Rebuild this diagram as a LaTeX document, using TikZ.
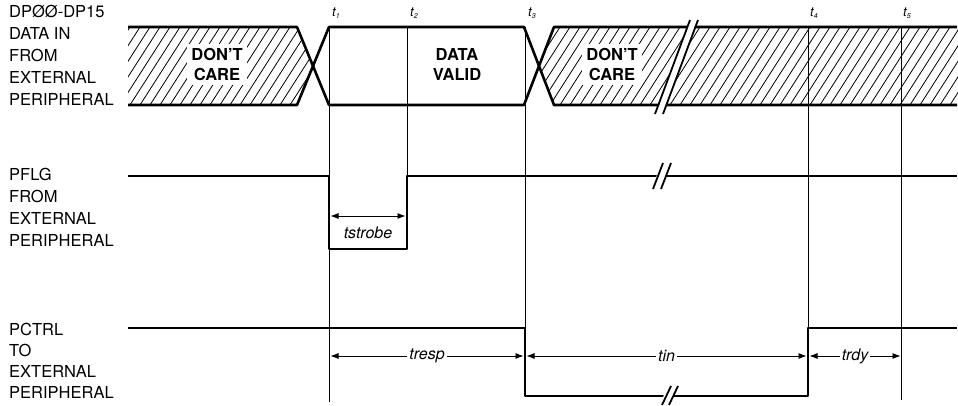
\documentclass[tikz,border=0pt]{standalone}
\usepackage{fontspec}
\setmainfont{TeX Gyre Heros}
\usetikzlibrary{arrows.meta}
\begin{document}
\begin{tikzpicture}[x=1pt,y=-1pt,
  sig/.style={line width=2.6pt, line join=round},
  tline/.style={line width=0.9pt},
  hatch/.style={line width=0.8pt},
  brk/.style={line width=1.8pt},
  dim/.style={line width=0.8pt, {Latex[length=8pt,width=6pt]}-{Latex[length=8pt,width=6pt]}},
  lbl/.style={font=\fontsize{16.5}{20}\selectfont, anchor=base west, inner sep=0pt},
  care/.style={font=\bfseries\fontsize{16.5}{21}\selectfont, align=center, fill=white, inner sep=4pt},
  tlab/.style={font=\itshape\fontsize{13}{13}\selectfont, inner sep=0pt, anchor=base west},
  dlab/.style={font=\itshape\fontsize{16}{16}\selectfont, fill=white, inner sep=2pt}
]
\useasboundingbox (0,0) rectangle (958,406);

% ---- left labels
\foreach \t/\y [count=\i] in {DPØØ-DP15/18,DATA IN/40,FROM/62,EXTERNAL/84,PERIPHERAL/106}
  \node[lbl] (la\i) at (9,\y) {\t};
\foreach \t/\y [count=\i] in {PFLG/181,FROM/203,EXTERNAL/224.5,PERIPHERAL/246}
  \node[lbl] (lb\i) at (9,\y) {\t};
\foreach \t/\y [count=\i] in {PCTRL/335,TO/356,EXTERNAL/377,PERIPHERAL/398}
  \node[lbl] (lc\i) at (9,\y) {\t};

% ---- hatching
\begin{scope}
  \clip (128,27) -- (297,27) -- (313,66) -- (297,105) -- (128,105) -- cycle;
  \foreach \x in {80,90,...,340} \draw[hatch] (\x,105) -- ++(50,-78);
\end{scope}
\begin{scope}
  \clip (554,27) -- (958,27) -- (958,105) -- (554,105) -- (539,66) -- cycle;
  \foreach \x in {490,500,...,960} \draw[hatch] (\x,105) -- ++(50,-78);
\end{scope}

% ---- timing reference lines
\coordinate (t1a) at (329,27);  \coordinate (t1b) at (329,402);
\coordinate (t2a) at (407,27);  \coordinate (t2b) at (407,176);
\coordinate (t3a) at (525,27);  \coordinate (t3b) at (525,328);
\coordinate (t4a) at (808,27);  \coordinate (t4b) at (808,328);
\coordinate (t5a) at (901,27);  \coordinate (t5b) at (901,400);
\foreach \k in {1,...,5} \draw[tline] (t\k a) -- (t\k b);

\node[tlab] (T1) at (332,17) {t\raisebox{-1.5pt}{\fontsize{7}{7}\selectfont 1}};
\node[tlab] (T2) at (410,17) {t\raisebox{-1.5pt}{\fontsize{7}{7}\selectfont 2}};
\node[tlab] (T3) at (528,17) {t\raisebox{-1.5pt}{\fontsize{7}{7}\selectfont 3}};
\node[tlab] (T4) at (810,17) {t\raisebox{-1.5pt}{\fontsize{7}{7}\selectfont 4}};
\node[tlab] (T5) at (903,17) {t\raisebox{-1.5pt}{\fontsize{7}{7}\selectfont 5}};

% ---- data bus
\coordinate (d0t) at (128,27);  \coordinate (d0b) at (128,105);
\coordinate (x1t) at (297,27);  \coordinate (x1b) at (297,105);
\coordinate (v1t) at (329,27);  \coordinate (v1b) at (329,105);
\coordinate (v2t) at (524,27);  \coordinate (v2b) at (524,105);
\coordinate (x2t) at (554,27);  \coordinate (x2b) at (554,105);
\coordinate (det) at (957,27);  \coordinate (deb) at (957,105);
\draw[sig] (d0t) -- (x1t) -- (v1b) -- (v2b) -- (x2t) -- (det);
\draw[sig] (d0b) -- (x1b) -- (v1t) -- (v2t) -- (x2b) -- (deb);

\node[care] (dc1) at (217,64.5) {DON'T\\[-1pt]CARE};
\node[font=\bfseries\fontsize{16.5}{21}\selectfont, align=center, inner sep=0pt] (dv) at (457,64.5) {DATA\\[-1pt]VALID};
\node[care] (dc2) at (612,64.5) {DON'T\\[-1pt]CARE};

% break on data bus
\fill[white] (690,20) -- (697,20) -- (663,114) -- (656,114) -- cycle;
\coordinate (b1a) at (690,20); \coordinate (b1b) at (655,114);
\coordinate (b2a) at (698,20); \coordinate (b2b) at (663,114);
\draw[brk] (b1a) -- (b1b);
\draw[brk] (b2a) -- (b2b);

% ---- PFLG
\coordinate (p0) at (128,176); \coordinate (p1) at (329,176);
\coordinate (p2) at (329,249); \coordinate (p3) at (407,249);
\coordinate (p4) at (407,176); \coordinate (p5) at (957,176);
\draw[sig] (p0) -- (p1) -- (p2) -- (p3) -- (p4) -- (p5);
\fill[white] (658,170) -- (667,170) -- (664,182) -- (655,182) -- cycle;
\coordinate (c1a) at (653,189); \coordinate (c1b) at (663,163);
\coordinate (c2a) at (661,189); \coordinate (c2b) at (671,163);
\draw[brk] (c1a) -- (c1b);
\draw[brk] (c2a) -- (c2b);

\coordinate (s1) at (330.5,216); \coordinate (s2) at (405.5,216);
\draw[dim] (s1) -- (s2);
\node[font=\itshape\fontsize{16}{16}\selectfont, inner sep=0pt] (ts) at (368,233) {tstrobe};

% ---- PCTRL
\coordinate (q0) at (128,328); \coordinate (q1) at (525,328);
\coordinate (q2) at (525,396); \coordinate (q3) at (808,396);
\coordinate (q4) at (808,328); \coordinate (q5) at (957,328);
\draw[sig] (q0) -- (q1) -- (q2) -- (q3) -- (q4) -- (q5);
\fill[white] (665,391) -- (675,391) -- (672,401) -- (662,401) -- cycle;
\coordinate (e1a) at (662,405); \coordinate (e1b) at (671,386);
\coordinate (e2a) at (669,405); \coordinate (e2b) at (678,386);
\draw[brk] (e1a) -- (e1b);
\draw[brk] (e2a) -- (e2b);

\coordinate (r1) at (330.5,356); \coordinate (r2) at (523.5,356);
\coordinate (r3) at (526.5,356); \coordinate (r4) at (806.5,356);
\coordinate (r5) at (809.5,356); \coordinate (r6) at (900.5,356);
\draw[dim] (r1) -- node[dlab] (tr) {tresp} (r2);
\draw[dim] (r3) -- node[dlab] (ti) {tin} (r4);
\draw[dim] (r5) -- node[dlab] (td) {trdy} (r6);
\end{tikzpicture}
\end{document}
